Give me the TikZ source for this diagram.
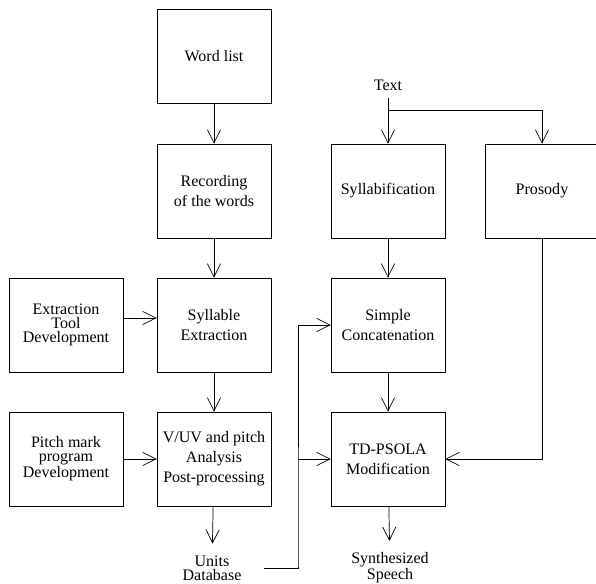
\documentclass[tikz,border=0pt]{standalone}
\usepackage{fontspec}
\setmainfont{Liberation Serif}
\usetikzlibrary{arrows.meta}

\begin{document}
\begin{tikzpicture}[
  line width=0.5pt,
  >={Straight Barb[length=0.33cm,width=0.33cm]},
  block/.style={draw, minimum width=2.85cm, minimum height=2.35cm, align=center,
    font=\fontsize{11.4pt}{14.2pt}\selectfont},
  tight/.style={block, font=\fontsize{11.4pt}{10pt}\selectfont},
  lbl/.style={align=center, inner sep=1pt, font=\fontsize{11.4pt}{10.2pt}\selectfont}
]
\useasboundingbox (0,0) rectangle (14.9,-14.575);

% Boxes
\node[block] (wl) at (5.35,-1.4) {Word list};
\node[block] (rec) at (5.35,-4.775) {Recording\\of the words};
\node[block] (sylext) at (5.35,-8.125) {Syllable\\Extraction};
\node[block] (vuv) at (5.35,-11.475) {V/UV and pitch\\Analysis\\Post-processing};
\node[tight] (tool) at (1.65,-8.125) {Extraction\\Tool\\Development};
\node[tight] (pm) at (1.65,-11.475) {Pitch mark\\program\\Development};
\node[block] (sylf) at (9.7,-4.775) {Syllabification};
\node[block] (pros) at (13.55,-4.775) {Prosody};
\node[block] (concat) at (9.7,-8.125) {Simple\\Concatenation};
\node[block] (psola) at (9.7,-11.475) {TD-PSOLA\\Modification};

% Labels
\node[lbl, outer ysep=0.15cm] (txt) at (9.7,-2.125) {Text};
\node[lbl, outer xsep=0.54cm, outer ysep=0.26cm] (units) at (5.3,-14.2) {Units\\Database};
\node[lbl, outer ysep=0.26cm] (speech) at (9.75,-14.2) {Synthesized\\Speech};

% Left chain
\draw[->] (wl) -- (rec);
\draw[->] (rec) -- (sylext);
\draw[->] (sylext) -- (vuv);
\draw[->] (vuv) -- (units);
\draw[->] ([yshift=0.175cm]tool.east) -- ([yshift=0.175cm]sylext.west);
\draw[->] (pm) -- (vuv);

% Right chain
\coordinate (split) at (9.7,-2.75);
\draw (txt) -- (split);
\draw[->] (split) -- (sylf);
\draw[->] (split) -| (pros);
\draw[->] (sylf) -- (concat);
\draw[->] (concat) -- (psola);
\draw[->] (psola) -- (speech);
\draw[->] (pros) |- (psola);

% Units to synthesis
\coordinate (bus) at (7.45,-14.15);
\draw[->] (units.east) -| (bus) |- (concat);
\draw[->] (bus |- psola) -- (psola);
\end{tikzpicture}
\end{document}
